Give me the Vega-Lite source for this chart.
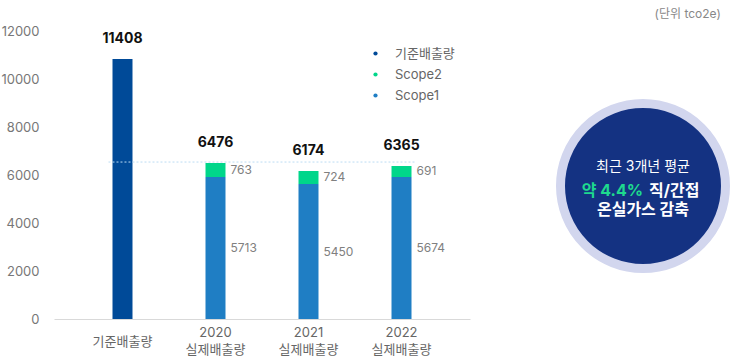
{
  "$schema": "https://vega.github.io/schema/vega-lite/v6.json",
  "padding": {"left": 0, "top": 8, "right": 0, "bottom": 0},
  "background": "white",
  "config": {
    "font": "Inter, Noto Sans CJK KR",
    "view": {"stroke": null},
    "concat": {"spacing": 72}
  },
  "datasets": {
    "bars": [
      {"cat": "기준배출량", "series": "기준배출량", "ord": 0, "value": 10833, "label": "11408"},
      {"cat": "2020\n실제배출량", "series": "Scope1", "ord": 1, "value": 5917, "label": "5713"},
      {"cat": "2020\n실제배출량", "series": "Scope2", "ord": 2, "value": 583, "label": "763"},
      {"cat": "2021\n실제배출량", "series": "Scope1", "ord": 1, "value": 5625, "label": "5450"},
      {"cat": "2021\n실제배출량", "series": "Scope2", "ord": 2, "value": 542, "label": "724"},
      {"cat": "2022\n실제배출량", "series": "Scope1", "ord": 1, "value": 5917, "label": "5674"},
      {"cat": "2022\n실제배출량", "series": "Scope2", "ord": 2, "value": 458, "label": "691"}
    ],
    "totals": [
      {"cat": "기준배출량", "top": 10833, "label": "11408"},
      {"cat": "2020\n실제배출량", "top": 6500, "label": "6476"},
      {"cat": "2021\n실제배출량", "top": 6167, "label": "6174"},
      {"cat": "2022\n실제배출량", "top": 6375, "label": "6365"}
    ],
    "avg": [
      {"name": "최근 3개년 평균", "value": 6540, "from": "기준배출량", "to": "2022\n실제배출량"}
    ],
    "badge": [
      {"name": "최근 3개년 평균 직/간접 온실가스 감축", "pct": 4.4}
    ],
    "badgeText": [
      {"line": "a", "part": "head", "text": "최근 3개년 평균"},
      {"line": "b", "part": "pct", "text": "약 4.4%"},
      {"line": "b", "part": "scope", "text": "직/간접"},
      {"line": "c", "part": "tail", "text": "온실가스 감축"}
    ]
  },
  "hconcat": [
    {
      "width": 416,
      "height": 288,
      "layer": [
        {
          "data": {"name": "bars"},
          "mark": {"type": "bar"},
          "encoding": {
            "x": {
              "field": "cat", "type": "nominal",
              "scale": {"domain": ["기준배출량", "2020\n실제배출량", "2021\n실제배출량", "2022\n실제배출량"], "paddingInner": 0.785, "paddingOuter": 0.629},
              "axis": {
                "title": null, "labelAngle": 0,
                "labelExpr": "split(datum.label, '\\n')",
                "labelFontSize": 13, "labelColor": "#666", "labelBaseline": "middle",
                "labelLineHeight": 17,
                "labelPadding": {"condition": {"test": "datum.value == '기준배출량'", "value": 22}, "value": 13},
                "ticks": false,
                "domainColor": "#d9d9d9"
              }
            },
            "y": {
              "field": "value", "type": "quantitative", "stack": "zero",
              "scale": {"domain": [0, 12000]},
              "axis": {
                "title": null, "values": [0, 2000, 4000, 6000, 8000, 10000, 12000],
                "format": "d", "grid": false, "domain": false, "ticks": false,
                "labelPadding": 15, "labelFontSize": 13, "labelColor": "#777"
              }
            },
            "color": {
              "field": "series", "type": "nominal",
              "scale": {"domain": ["기준배출량", "Scope2", "Scope1"], "range": ["#004a98", "#00d68a", "#1f7ec4"]},
              "legend": {
                "title": null, "orient": "none", "legendX": 315, "legendY": 16,
                "symbolType": "circle", "symbolSize": 18, "symbolStrokeWidth": 0,
                "labelFontSize": 13, "labelColor": "#666", "rowPadding": 7, "labelOffset": 13
              }
            },
            "order": {"field": "ord", "type": "quantitative"}
          }
        },
        {
          "data": {"name": "avg"},
          "mark": {"type": "rule", "strokeDash": [2, 2], "color": "#bcdcf3", "strokeWidth": 1},
          "encoding": {
            "x": {"field": "from", "type": "nominal", "bandPosition": -0.2},
            "x2": {"field": "to", "bandPosition": 1.15},
            "y": {"field": "value", "type": "quantitative"}
          }
        },
        {
          "data": {"name": "bars"},
          "transform": [
            {"filter": "datum.series != '기준배출량'"},
            {"stack": "value", "groupby": ["cat"], "sort": [{"field": "ord", "order": "ascending"}], "as": ["y0", "y1"]},
            {"fold": ["y0", "y1"], "as": ["edge", "pos"]}
          ],
          "mark": {"type": "text", "align": "left", "baseline": "middle", "dx": 5, "fontSize": 12, "color": "#808080"},
          "encoding": {
            "x": {"field": "cat", "type": "nominal", "bandPosition": 1},
            "y": {"field": "pos", "aggregate": "mean", "type": "quantitative"},
            "text": {"field": "label", "type": "nominal"},
            "detail": {"field": "series", "type": "nominal"}
          }
        },
        {
          "data": {"name": "totals"},
          "mark": {"type": "text", "baseline": "middle", "dy": -20, "fontSize": 14, "fontWeight": "bold", "color": "#111"},
          "encoding": {
            "x": {"field": "cat", "type": "nominal"},
            "y": {"field": "top", "type": "quantitative"},
            "text": {"field": "label", "type": "nominal"}
          }
        }
      ]
    },
    {
      "width": 176,
      "height": 310,
      "title": {"text": "(단위 tco2e)", "anchor": "end", "frame": "group", "fontSize": 12, "fontWeight": "normal", "color": "#888", "offset": 10, "dx": -10},
      "layer": [
        {
          "data": {"name": "badge"},
          "mark": {"type": "point", "shape": "circle", "filled": true, "size": 27225, "fill": "#143282", "stroke": "#d2d6ee", "strokeWidth": 9, "opacity": 1, "fillOpacity": 1, "strokeOpacity": 1},
          "encoding": {}
        },
        {
          "data": {"name": "badgeText"},
          "transform": [{"filter": "datum.part == 'head'"}],
          "mark": {"type": "text", "fontSize": 14, "color": "white", "baseline": "middle", "dy": -19},
          "encoding": {"text": {"field": "text"}}
        },
        {
          "data": {"name": "badgeText"},
          "transform": [{"filter": "datum.part == 'pct'"}],
          "mark": {"type": "text", "fontSize": 16, "fontWeight": "bold", "color": "#1ed98e", "baseline": "middle", "align": "right", "dy": 5},
          "encoding": {"text": {"field": "text"}}
        },
        {
          "data": {"name": "badgeText"},
          "transform": [{"filter": "datum.part == 'scope'"}],
          "mark": {"type": "text", "fontSize": 16, "fontWeight": "bold", "color": "white", "baseline": "middle", "align": "left", "dx": 6, "dy": 5},
          "encoding": {"text": {"field": "text"}}
        },
        {
          "data": {"name": "badgeText"},
          "transform": [{"filter": "datum.part == 'tail'"}],
          "mark": {"type": "text", "fontSize": 16, "fontWeight": "bold", "color": "white", "baseline": "middle", "dy": 24},
          "encoding": {"text": {"field": "text"}}
        }
      ]
    }
  ]
}
